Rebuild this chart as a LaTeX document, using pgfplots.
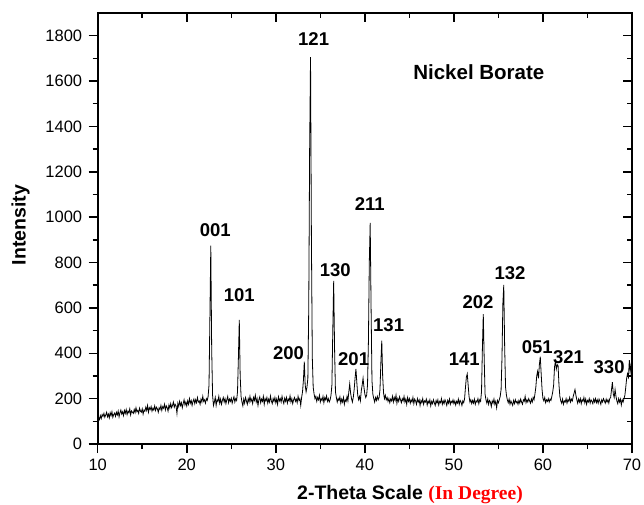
\documentclass[border=0pt]{standalone}
\usepackage{pgfplots}
\pgfplotsset{compat=1.18}
\usepackage{fontspec}
\setmainfont{Liberation Sans}
\newfontfamily\timesfont{Liberation Serif}
\pgfplotstableread{
x y
10.0 100
10.1 118
10.2 108
10.3 125
10.4 112
10.5 130
10.6 122
10.7 135
10.8 118
10.9 128
11.0 140
11.1 120
11.2 132
11.3 115
11.4 138
11.5 125
11.6 142
11.7 118
11.8 130
11.9 136
12.0 122
12.1 140
12.2 128
12.3 145
12.4 120
12.5 138
12.6 150
12.7 132
12.8 142
12.9 125
13.0 148
13.1 135
13.2 152
13.3 130
13.4 145
13.5 138
13.6 155
13.7 128
13.8 146
13.9 140
14.0 135
14.1 152
14.2 138
14.3 160
14.4 142
14.5 148
14.6 135
14.7 158
14.8 145
14.9 140
15.0 155
15.1 132
15.2 150
15.3 145
15.4 162
15.5 148
15.6 170
15.7 140
15.8 160
15.9 152
16.0 165
16.1 145
16.2 158
16.3 150
16.4 168
16.5 148
16.6 162
16.7 155
16.8 140
16.9 160
17.0 152
17.1 170
17.2 148
17.3 165
17.4 158
17.5 175
17.6 150
17.7 168
17.8 160
17.9 145
18.0 172
18.1 158
18.2 178
18.3 160
18.4 170
18.5 185
18.6 162
18.7 175
18.8 168
18.9 135
19.0 180
19.1 165
19.2 188
19.3 170
19.4 182
19.5 160
19.6 178
19.7 195
19.8 172
19.9 185
20.0 168
20.1 190
20.2 175
20.3 200
20.4 180
20.5 192
20.6 170
20.7 188
20.8 198
20.9 178
21.0 195
21.1 182
21.2 205
21.3 185
21.4 190
21.5 175
21.6 198
21.7 185
21.8 210
21.9 188
22.0 195
22.1 180
22.2 200
22.3 192
22.4 210
22.5 260
22.6 560
22.7 875
22.8 420
22.9 215
23.0 170
23.1 185
23.2 205
23.3 170
23.4 195
23.5 188
23.6 210
23.7 180
23.8 198
23.9 175
24.0 192
24.1 205
24.2 185
24.3 200
24.4 178
24.5 195
24.6 210
24.7 182
24.8 198
24.9 188
25.0 202
25.1 180
25.2 195
25.3 208
25.4 185
25.5 200
25.6 192
25.7 230
25.8 380
25.9 547
26.0 300
26.1 210
26.2 185
26.3 168
26.4 198
26.5 180
26.6 205
26.7 190
26.8 175
26.9 200
27.0 185
27.1 210
27.2 188
27.3 198
27.4 178
27.5 205
27.6 192
27.7 215
27.8 185
27.9 200
28.0 170
28.1 195
28.2 208
28.3 182
28.4 198
28.5 188
28.6 210
28.7 175
28.8 200
28.9 190
29.0 205
29.1 180
29.2 198
29.3 185
29.4 212
29.5 190
29.6 178
29.7 200
29.8 188
29.9 205
30.0 182
30.1 198
30.2 175
30.3 208
30.4 190
30.5 200
30.6 185
30.7 210
30.8 192
30.9 178
31.0 202
31.1 188
31.2 205
31.3 180
31.4 198
31.5 190
31.6 212
31.7 185
31.8 200
31.9 178
32.0 195
32.1 205
32.2 188
32.3 198
32.4 182
32.5 210
32.6 192
32.7 200
32.8 170
32.9 205
33.0 230
33.1 280
33.2 363
33.3 260
33.4 230
33.5 250
33.6 290
33.7 600
33.8 1300
33.9 1706
34.0 900
34.1 380
34.2 250
34.3 220
34.4 200
34.5 210
34.6 188
34.7 205
34.8 195
34.9 215
35.0 185
35.1 200
35.2 192
35.3 210
35.4 182
35.5 205
35.6 195
35.7 212
35.8 188
35.9 200
36.0 185
36.1 195
36.2 215
36.3 260
36.4 500
36.5 719
36.6 420
36.7 230
36.8 205
36.9 185
37.0 200
37.1 192
37.2 208
37.3 180
37.4 198
37.5 185
37.6 205
37.7 175
37.8 195
37.9 188
38.0 210
38.1 190
38.2 230
38.3 265
38.4 225
38.5 200
38.6 185
38.7 205
38.8 240
38.9 290
39.0 331
39.1 270
39.2 215
39.3 195
39.4 210
39.5 190
39.6 235
39.7 260
39.8 290
39.9 250
40.0 220
40.1 205
40.2 215
40.3 260
40.4 450
40.5 800
40.6 975
40.7 600
40.8 280
40.9 220
41.0 200
41.1 185
41.2 205
41.3 192
41.4 210
41.5 195
41.6 205
41.7 240
41.8 360
41.9 456
42.0 300
42.1 225
42.2 200
42.3 215
42.4 195
42.5 205
42.6 188
42.7 200
42.8 182
42.9 198
43.0 190
43.1 210
43.2 185
43.3 205
43.4 192
43.5 215
43.6 180
43.7 200
43.8 188
43.9 208
44.0 195
44.1 182
44.2 200
44.3 190
44.4 210
44.5 185
44.6 198
44.7 175
44.8 205
44.9 188
45.0 200
45.1 180
45.2 195
45.3 185
45.4 205
45.5 178
45.6 198
45.7 190
45.8 175
45.9 200
46.0 185
46.1 195
46.2 170
46.3 192
46.4 182
46.5 200
46.6 175
46.7 190
46.8 185
46.9 198
47.0 172
47.1 190
47.2 180
47.3 195
47.4 168
47.5 188
47.6 178
47.7 195
47.8 182
47.9 170
48.0 192
48.1 180
48.2 195
48.3 172
48.4 188
48.5 182
48.6 200
48.7 175
48.8 190
48.9 178
49.0 195
49.1 185
49.2 170
49.3 192
49.4 180
49.5 198
49.6 175
49.7 188
49.8 182
49.9 195
50.0 178
50.1 190
50.2 172
50.3 188
50.4 180
50.5 198
50.6 175
50.7 192
50.8 185
50.9 170
51.0 190
51.1 182
51.2 200
51.3 250
51.4 295
51.5 309
51.6 260
51.7 210
51.8 185
51.9 195
52.0 178
52.1 192
52.2 180
52.3 198
52.4 175
52.5 190
52.6 185
52.7 200
52.8 178
52.9 195
53.0 188
53.1 230
53.2 420
53.3 573
53.4 380
53.5 220
53.6 195
53.7 180
53.8 198
53.9 175
54.0 192
54.1 185
54.2 165
54.3 190
54.4 180
54.5 198
54.6 175
54.7 188
54.8 160
54.9 192
55.0 182
55.1 195
55.2 210
55.3 240
55.4 380
55.5 620
55.6 701
55.7 430
55.8 250
55.9 215
56.0 195
56.1 182
56.2 198
56.3 175
56.4 190
56.5 180
56.6 170
56.7 192
56.8 178
56.9 195
57.0 182
57.1 188
57.2 175
57.3 192
57.4 180
57.5 198
57.6 185
57.7 175
57.8 195
57.9 188
58.0 210
58.1 182
58.2 195
58.3 185
58.4 200
58.5 190
58.6 180
58.7 198
58.8 185
58.9 205
59.0 195
59.1 220
59.2 250
59.3 300
59.4 320
59.5 290
59.6 350
59.7 385
59.8 310
59.9 240
60.0 200
60.1 190
60.2 205
60.3 182
60.4 195
60.5 188
60.6 200
60.7 185
60.8 198
60.9 192
61.0 210
61.1 230
61.2 260
61.3 340
61.4 363
61.5 330
61.6 350
61.7 345
61.8 260
61.9 210
62.0 190
62.1 180
62.2 198
62.3 175
62.4 190
62.5 185
62.6 200
62.7 180
62.8 195
62.9 188
63.0 205
63.1 185
63.2 198
63.3 190
63.4 210
63.5 225
63.6 240
63.7 215
63.8 195
63.9 180
64.0 198
64.1 185
64.2 200
64.3 178
64.4 195
64.5 188
64.6 205
64.7 182
64.8 198
64.9 175
65.0 192
65.1 185
65.2 200
65.3 180
65.4 195
65.5 188
65.6 178
65.7 198
65.8 185
65.9 200
66.0 182
66.1 195
66.2 180
66.3 198
66.4 188
66.5 175
66.6 195
66.7 185
66.8 200
66.9 190
67.0 180
67.1 198
67.2 185
67.3 195
67.4 180
67.5 200
67.6 205
67.7 240
67.8 273
67.9 220
68.0 205
68.1 240
68.2 210
68.3 190
68.4 178
68.5 200
68.6 185
68.7 198
68.8 172
68.9 195
69.0 185
69.1 200
69.2 215
69.3 250
69.4 290
69.5 310
69.6 295
69.7 370
69.8 320
69.9 350
70.0 300
}\xrd
\begin{document}
\begin{tikzpicture}
\useasboundingbox (-97.7pt,-60pt) rectangle (546.3pt,444pt);
\begin{axis}[scale only axis, width=534.3pt, height=431pt,
    xmin=10, xmax=70, ymin=0, ymax=1900,
    xtick={10,20,...,70}, ytick={0,200,...,1800},
    minor x tick num=1, minor y tick num=1,
    tick pos=right, tick align=inside,
    xticklabels={}, yticklabels={},
    axis line style={line width=1.8pt, line cap=rect},
    major tick length=9pt, minor tick length=5pt,
    tick style={line width=1.5pt, black}]
\end{axis}
\begin{axis}[scale only axis, width=534.3pt, height=431pt,
    xmin=10, xmax=70, ymin=0, ymax=1900,
    xtick={10,20,...,70}, ytick={0,200,...,1800},
    minor x tick num=1, minor y tick num=1,
    tick pos=left, tick align=outside,
    axis line style={line width=1.8pt, line cap=rect},
    major tick length=9pt, minor tick length=5pt,
    tick style={line width=1.5pt, black},
    tick label style={font=\fontsize{16.5}{18}\selectfont},
    xticklabel style={yshift=-2pt},
    yticklabel style={xshift=-3pt},
    /pgf/number format/assume math mode=true,
    /pgf/number format/1000 sep={}]
\addplot[black, line width=0.8pt, mark=none] table[x=x, y=y] {\xrd};
\begin{scope}[every node/.style={font=\bfseries\fontsize{18.5}{20}\selectfont}]
\node at (axis cs:23.2,944) {001};
\node at (axis cs:25.9,657) {101};
\node at (axis cs:34.25,1786) {121};
\node at (axis cs:40.56,1059) {211};
\node at (axis cs:36.67,767) {130};
\node at (axis cs:31.42,400) {200};
\node at (axis cs:38.74,373) {201};
\node at (axis cs:42.67,522) {131};
\node at (axis cs:51.16,375) {141};
\node at (axis cs:52.7,626) {202};
\node at (axis cs:56.3,754) {132};
\node at (axis cs:59.36,428) {051};
\node at (axis cs:62.88,384) {321};
\node at (axis cs:67.43,340) {330};
\end{scope}
\node[font=\bfseries\fontsize{20.5}{22}\selectfont] at (axis cs:52.8,1638) {Nickel Borate};
\end{axis}
\node[rotate=90, font=\bfseries\fontsize{19.5}{22}\selectfont] at (-77pt,219pt) {Intensity};
\node[font=\bfseries\fontsize{19.5}{22}\selectfont] at (312.3pt,-51pt) {2-Theta Scale {\timesfont\color{red}(In Degree)}};
\end{tikzpicture}
\end{document}
